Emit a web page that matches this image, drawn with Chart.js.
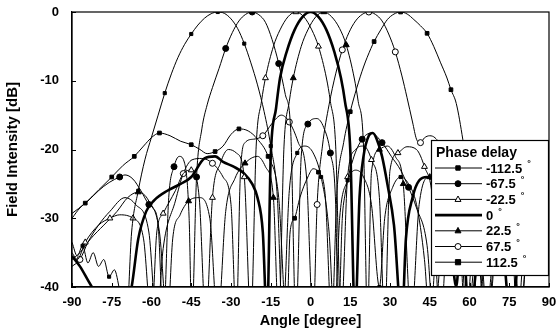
<!DOCTYPE html>
<html>
<head>
<meta charset="utf-8">
<script src="https://cdn.jsdelivr.net/npm/chart.js@4.4.0/dist/chart.umd.min.js"></script>
<style>
  body { margin: 0; background: #fff; }
  #wrap { width: 558px; height: 331px; }
</style>
</head>
<body>
<div id="wrap"><canvas id="c" width="558" height="331"></canvas></div>
<script>
// phase delays shown in the legend
const phases = [-112.5, -67.5, -22.5, 0, 22.5, 67.5, 112.5];

// measured patterns: angle [deg] and field intensity [dB] for each phase delay
const angM112 = [-90,-88,-86,-84,-82,-80,-78,-76,-74,-72,-69.5,-67.5,-65,-62.5,-60,-57.5,-55,-52.5,-50,-47.5,-45,-42.5,-40,-37.5,-35,-32.5,-30,-27.5,-25,-22.5,-20,-17.5,-15,-12.5,-10.5,-8,-5,-2,1,4,7,9,11,14,17,20,23,26,28,31,34,37,40,43,45,48,52,56,60,64,67,70,75,80,85,90];
const dbM112 = [-33.5,-35.5,-34,-36.5,-35,-37,-36,-38.5,-37.5,-40.5,-45,-32,-26,-21.5,-18.2,-15,-11.8,-9,-6.6,-4.7,-3.2,-1.9,-0.9,-0.25,0,-0.2,-1,-2.4,-4.6,-7.4,-10.6,-14.5,-19.5,-27,-45,-26,-20.5,-19.5,-20.5,-24,-32,-45,-30,-24.5,-23,-24,-28,-40,-30,-25.5,-24,-25,-28,-36,-45,-31,-26.5,-26,-28,-33,-45,-34,-29,-27.5,-29,-30];

const angM67 = [-90,-87,-84,-80,-76,-72,-70,-67,-64,-61,-59.5,-57.5,-55.5,-53.5,-51.5,-49.5,-47.5,-45.8,-44.8,-43,-41,-39,-37,-34.5,-32,-29.5,-27,-24.5,-22,-19.5,-17,-14.5,-12,-9.5,-7.5,-5.5,-3.5,-1,2.4,5,7.5,9.5,10.5,12,13,16,19.5,23,27,30.5,34,37,40,44,46.5,50,55,60,64,66.5,70,75,80,85,88,90];
const dbM67 = [-30,-28.5,-27.5,-26,-24.8,-24,-23.7,-24.3,-26,-28,-28.5,-31,-45,-27,-22.5,-21,-22,-30,-45,-24,-17,-13.5,-11,-8.2,-5.3,-3,-1.3,-0.35,0,-0.4,-1.5,-4,-7.5,-12,-17,-45,-21,-16.3,-15.5,-16.8,-20.5,-28,-45,-30,-26.6,-21.5,-18.5,-17.6,-19,-21,-23,-25.5,-28.5,-34,-45,-32,-28,-29,-35,-45,-33,-29,-28.5,-30,-32,-30];

const angM22 = [-90,-88,-85,-80,-75.7,-72,-67,-63,-60,-58,-55.6,-51,-48,-45,-42,-39.5,-37,-34,-31,-28,-25,-22.5,-20.5,-18.5,-17,-14,-11.5,-8.5,-5.5,-2.5,0.5,3,6,7.5,9.5,11.5,14,17,20,23,26,28,30,33,36.4,40,43,46,49,52,57,62,66,70,76,82,87,90];
const dbM22 = [-35,-36,-33.5,-31,-30,-29.5,-30,-33,-45,-32,-29.3,-26,-23.5,-23,-27,-45,-27,-22,-20,-20.5,-24,-45,-19.5,-13,-9.6,-5,-2.6,-0.7,0,-0.7,-2.6,-5,-9.6,-13,-19.5,-45,-24,-20,-19.5,-21.5,-27,-45,-23,-20.5,-19.6,-20,-22.5,-27,-45,-30,-27,-29,-45,-31,-28,-29,-33,-34];

const angP0 = [-90,-87,-84,-81,-78,-75,-71,-67.5,-65,-62,-59,-54,-49,-45,-40,-36,-33,-29,-25,-22,-20,-18,-16.4,-15,-13,-11.5,-9,-6,-3,0,3,6,9,11.5,13,15,16.8,18.5,20,22,23.5,25,27,29,31.5,34.5,36,38.5,41,44,47,50,53,55,57,60,63,68,73,75.5,79,84,90];
const dbP0 = [-35.5,-37,-39,-41,-43,-45,-45,-40,-33,-29,-27.4,-26,-25,-24,-21.3,-21,-21.8,-22.5,-23.5,-25,-27,-32,-45,-21,-14,-9.6,-5.8,-2.6,-0.7,0,-0.7,-2.6,-5.8,-9.6,-13,-20,-45,-27,-21,-18,-17.6,-18.5,-21,-25,-31,-45,-33,-27,-24.5,-24,-25,-28,-34,-40,-30,-45,-36,-32,-36,-45,-34,-30,-31];

const angP22 = [-90,-87,-83,-78,-73,-69,-65,-61,-57,-54,-52,-49.2,-46,-42,-38,-35,-32,-28.5,-24.7,-20,-17,-14,-12,-10,-8,-6.5,-3.5,-1,2,5,8,11,13.5,16.5,18,20,21.5,23,26,29,32,35,38,41,45,49,53,57,59,63,68,73,77,79,82,86,90];
const dbP22 = [-36,-35,-33,-31,-29,-27,-26.2,-27.5,-32,-45,-33,-29.5,-27.5,-27,-30,-45,-29,-24.2,-22,-21,-22.5,-27,-45,-19.5,-13,-9.6,-5,-2.6,-0.7,0,-0.7,-2.4,-4.8,-9.6,-13,-19.5,-45,-23.3,-20,-19.5,-21,-25,-45,-28,-24,-24,-27,-34,-45,-32,-28,-29,-35,-45,-33,-29,-28];

const angP67 = [-90,-87,-84,-80,-75.7,-70,-66,-61,-58,-55.6,-51,-48,-44.7,-41,-37,-33,-30,-28,-26.5,-24.7,-21.5,-18,-14.5,-11,-8,-4.7,-1.5,1,2.5,4.5,7,9.5,12,14.5,17,19.5,22,24.5,27,29.5,32,34.5,36.4,38.5,40,41.5,43,45,47,50,53,56,58.5,62,67,72,76,78,81,86,90];
const dbP67 = [-37,-36,-33.5,-31,-29,-27,-28,-32,-45,-34.4,-27.5,-23.5,-21.5,-21.3,-22,-24,-28,-45,-24,-19,-18.5,-18,-16.2,-15,-16,-18.9,-24,-45,-28,-19.5,-13.5,-9,-5.5,-3,-1.3,-0.35,0,-0.35,-1.3,-3.2,-5.8,-9.3,-12.4,-16,-18.5,-19,-18.3,-18,-18.3,-20,-24,-30,-45,-30,-26,-27,-32,-45,-32,-28,-28];

const angP112 = [-90,-85,-80,-75,-70.7,-66.5,-63,-59.8,-57,-53,-49,-45,-41.7,-39,-36,-33,-30,-27,-23.5,-20,-16,-12,-9,-7.7,-6,-4,-1,1,3,5.5,8,10,12.5,15,17.5,20,22.8,24,26.5,29,31.5,34,36.5,39,41.5,44,46.5,49,51.5,53,55,57.5,59.5,61.5,63,66,70,74,77,79,82,86,90];
const dbP112 = [-29.3,-27.8,-25.9,-24,-22.3,-21,-19.5,-18.2,-17.6,-18,-18.8,-19.3,-20,-20.6,-20.3,-19.5,-17.8,-17,-17.3,-18.5,-21,-27,-45,-32,-30,-27,-24,-22.8,-23.3,-26.4,-45,-26,-19,-14.5,-11,-8,-5.3,-4.3,-2.6,-1.1,-0.3,0,-0.3,-1.1,-2,-3.1,-5,-7.3,-9.6,-11.3,-13.3,-18.6,-24,-33,-45,-32,-28,-29,-34,-45,-32,-27,-26];

// x and y axis ticks
const xTicks = [-90, -75, -60, -45, -30, -15, 0, 15, 30, 45, 60, 75, 90];
const yTicks = [-40, -30, -20, -10, 0];

const curves = [
  { ang: angM112, db: dbM112, peak: -35, style: 'rect', r: 2.2, fill: '#000', width: 1 },
  { ang: angM67, db: dbM67, peak: -22, style: 'circle', r: 3, fill: '#000', width: 1 },
  { ang: angM22, db: dbM22, peak: -5.5, style: 'triangle', r: 3.4, fill: '#fff', width: 1 },
  { ang: angP0, db: dbP0, peak: 0, style: false, r: 0, fill: '#000', width: 2.6 },
  { ang: angP22, db: dbP22, peak: 5, style: 'triangle', r: 3.4, fill: '#000', width: 1 },
  { ang: angP67, db: dbP67, peak: 22, style: 'circle', r: 3, fill: '#fff', width: 1 },
  { ang: angP112, db: dbP112, peak: 34, style: 'rect', r: 2.6, fill: '#000', width: 1 }
];

// put a marker on the sample closest to every 10 degrees from the beam peak
function markerIndices(ang, peak) {
  const set = new Set();
  for (let t = peak - 180; t <= 90; t += 10) {
    if (t < -90) continue;
    let best = -1, bd = 99;
    ang.forEach((a, i) => { const d = Math.abs(a - t); if (d < bd) { bd = d; best = i; } });
    if (bd <= 1.6) set.add(best);
  }
  return set;
}

const FONT = '"Liberation Sans", Arial, sans-serif';

const datasets = curves.map((c, k) => {
  const marks = markerIndices(c.ang, c.peak);
  return {
    label: String(phases[k]),
    data: c.ang.map((a, i) => ({ x: a, y: c.db[i] })),
    borderColor: '#000',
    borderWidth: c.width,
    backgroundColor: c.fill,
    pointStyle: c.style || 'circle',
    pointBackgroundColor: c.fill,
    pointBorderColor: '#000',
    pointBorderWidth: 1,
    pointRadius: ctx => (c.style && marks.has(ctx.dataIndex)) ? c.r : 0,
    pointHoverRadius: 0,
    cubicInterpolationMode: 'monotone',
    fill: false
  };
});

function drawMarker(ctx, c, x, y) {
  if (!c.style) return;
  ctx.save();
  ctx.fillStyle = c.fill;
  ctx.strokeStyle = '#000';
  ctx.lineWidth = 1;
  ctx.beginPath();
  if (c.style === 'rect') {
    ctx.rect(x - c.r, y - c.r, c.r * 2, c.r * 2);
  } else if (c.style === 'circle') {
    ctx.arc(x, y, c.r, 0, Math.PI * 2);
  } else {
    const h = c.r * 1.5;
    ctx.moveTo(x, y - c.r);
    ctx.lineTo(x + h * 0.58, y + c.r * 0.6);
    ctx.lineTo(x - h * 0.58, y + c.r * 0.6);
    ctx.closePath();
  }
  ctx.fill();
  ctx.stroke();
  ctx.restore();
}

// frame, inner tick marks and the boxed legend
const decor = {
  id: 'decor',
  afterDraw(chart) {
    const ctx = chart.ctx;
    const a = chart.chartArea;
    const xs = chart.scales.x, ys = chart.scales.y;
    ctx.save();
    ctx.strokeStyle = '#000';
    ctx.lineWidth = 1.2;
    ctx.strokeRect(a.left, a.top, a.right - a.left, a.bottom - a.top);
    ctx.lineWidth = 1;
    ctx.beginPath();
    xTicks.forEach(t => {
      const px = Math.round(xs.getPixelForValue(t)) + 0.5;
      ctx.moveTo(px, a.bottom); ctx.lineTo(px, a.bottom - 4);
    });
    yTicks.forEach(t => {
      const py = Math.round(ys.getPixelForValue(t)) + 0.5;
      ctx.moveTo(a.left, py); ctx.lineTo(a.left + 4, py);
    });
    ctx.stroke();

    // legend
    const bx = 431, by = 140, bw = 117, bh = 135;
    ctx.fillStyle = '#fff';
    ctx.fillRect(bx, by, bw, bh);
    ctx.lineWidth = 1.2;
    ctx.strokeRect(bx + 0.5, by + 0.5, bw, bh);
    ctx.fillStyle = '#000';
    ctx.textBaseline = 'middle';
    ctx.textAlign = 'left';
    ctx.font = 'bold 14px ' + FONT;
    ctx.fillText('Phase delay', 436, 153);
    curves.forEach((c, k) => {
      const y = 168 + k * 15.7;
      ctx.lineWidth = c.width;
      ctx.beginPath();
      ctx.moveTo(435, y); ctx.lineTo(482, y);
      ctx.stroke();
      drawMarker(ctx, c, 458, y);
      ctx.fillStyle = '#000';
      ctx.font = 'bold 13px ' + FONT;
      const txt = String(phases[k]);
      ctx.fillText(txt, 486, y + 1);
      const w = ctx.measureText(txt).width;
      ctx.font = 'bold 9px ' + FONT;
      ctx.fillText('\u00b0', 486 + w + 5, y - 4);
    });
    ctx.restore();
  }
};

new Chart(document.getElementById('c'), {
  type: 'line',
  data: { datasets },
  options: {
    responsive: false,
    animation: false,
    devicePixelRatio: 1,
    layout: { autoPadding: false, padding: { top: 12, right: 9, left: 0, bottom: 0 } },
    plugins: { legend: { display: false }, tooltip: { enabled: false } },
    scales: {
      x: {
        type: 'linear', min: -90, max: 90,
        afterFit: s => { s.height = 44; s.paddingLeft = 0; s.paddingRight = 0; },
        afterBuildTicks: s => { s.ticks = xTicks.map(v => ({ value: v })); },
        ticks: { color: '#000', font: { family: FONT, size: 13, weight: 'bold' }, padding: 8, maxRotation: 0, autoSkip: false },
        grid: { display: false, drawTicks: false },
        border: { display: true, color: '#000', width: 1.2 },
        title: { display: true, text: 'Angle [degree]', color: '#000', font: { family: FONT, size: 14.5, weight: 'bold' }, padding: { top: 0, bottom: 1 } }
      },
      y: {
        min: -40, max: 0,
        afterFit: s => { s.width = 72; s.paddingTop = 0; s.paddingBottom = 0; },
        afterBuildTicks: s => { s.ticks = yTicks.map(v => ({ value: v })); },
        ticks: { color: '#000', font: { family: FONT, size: 13, weight: 'bold' }, padding: 13 },
        grid: { display: false, drawTicks: false },
        border: { display: true, color: '#000', width: 1.2 },
        title: { display: true, text: 'Field Intensity [dB]', color: '#000', font: { family: FONT, size: 15, weight: 'bold' }, padding: { top: 4, bottom: 0 } }
      }
    }
  },
  plugins: [decor]
});
</script>
</body>
</html>
